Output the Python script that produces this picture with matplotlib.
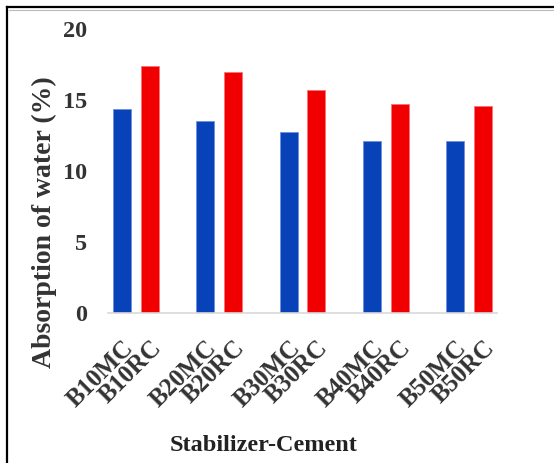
import matplotlib.pyplot as plt
import matplotlib.transforms as mtransforms
from matplotlib.lines import Line2D

# water absorption per mix, MC and RC series
mixes = ['B10', 'B20', 'B30', 'B40', 'B50']
mc_values = [14.4, 13.5, 12.75, 12.1, 12.1]
rc_values = [17.4, 17.0, 15.7, 14.7, 14.6]

plt.rcParams['font.family'] = ['Liberation Serif', 'DejaVu Serif']
plt.rcParams['font.weight'] = 'bold'

fig = plt.figure(figsize=(5.54, 4.63), dpi=100)
ax = fig.add_axes([0.195, 0.324, 0.702, 0.613])

# three slots per mix: MC, RC, then an empty gap
pos_mc = [3 * i for i in range(len(mixes))]
pos_rc = [3 * i + 1 for i in range(len(mixes))]
ax.bar(pos_mc, mc_values, width=0.65, color='#0842b8', edgecolor='#6f8fe0', linewidth=0.6)
ax.bar(pos_rc, rc_values, width=0.65, color='#f00000', edgecolor='#ff7070', linewidth=0.6)

ticks = []
labels = []
for i, m in enumerate(mixes):
    ticks += [pos_mc[i], pos_rc[i]]
    labels += [m + 'MC', m + 'RC']
ax.set_xticks([])
ax.set_xlim(-0.5, 13.5)

# slanted category labels hung under each bar
lbl_trans = ax.get_xaxis_transform() + mtransforms.ScaledTranslation(
    8 / 100, -31 / 100, fig.dpi_scale_trans)
for t, lab in zip(ticks, labels):
    ax.text(t, 0, lab, transform=lbl_trans, rotation=45, ha='right', va='center',
            rotation_mode='anchor', fontsize=18, color='#333333')

ax.set_ylim(0, 20)
ax.set_yticks([0, 5, 10, 15, 20])
ax.tick_params(axis='y', length=0, pad=15, labelsize=17.5, labelcolor='#333333')

for s in ['top', 'right', 'left']:
    ax.spines[s].set_visible(False)
ax.spines['bottom'].set_color('#d9d9d9')
ax.spines['bottom'].set_linewidth(1.2)

fig.text(0.08, 0.52, 'Absorption of water (%)', rotation=90, ha='center', va='center',
         fontsize=20, fontweight='bold', color='#333333')
fig.text(0.475, 0.038, 'Stabilizer-Cement', ha='center', va='center',
         fontsize=17.5, fontweight='bold', color='#222222')

# frame around the figure (left and top edges)
fig.add_artist(Line2D([0.012, 0.012], [0.0, 0.984], transform=fig.transFigure,
                      color='black', linewidth=1.6))
fig.add_artist(Line2D([0.012, 1.0], [0.984, 0.984], transform=fig.transFigure,
                      color='black', linewidth=1.6))
fig.add_artist(Line2D([0.016, 1.0], [0.979, 0.979], transform=fig.transFigure,
                      color='#bbbbbb', linewidth=0.8))

fig.savefig('out.png', dpi=100)
